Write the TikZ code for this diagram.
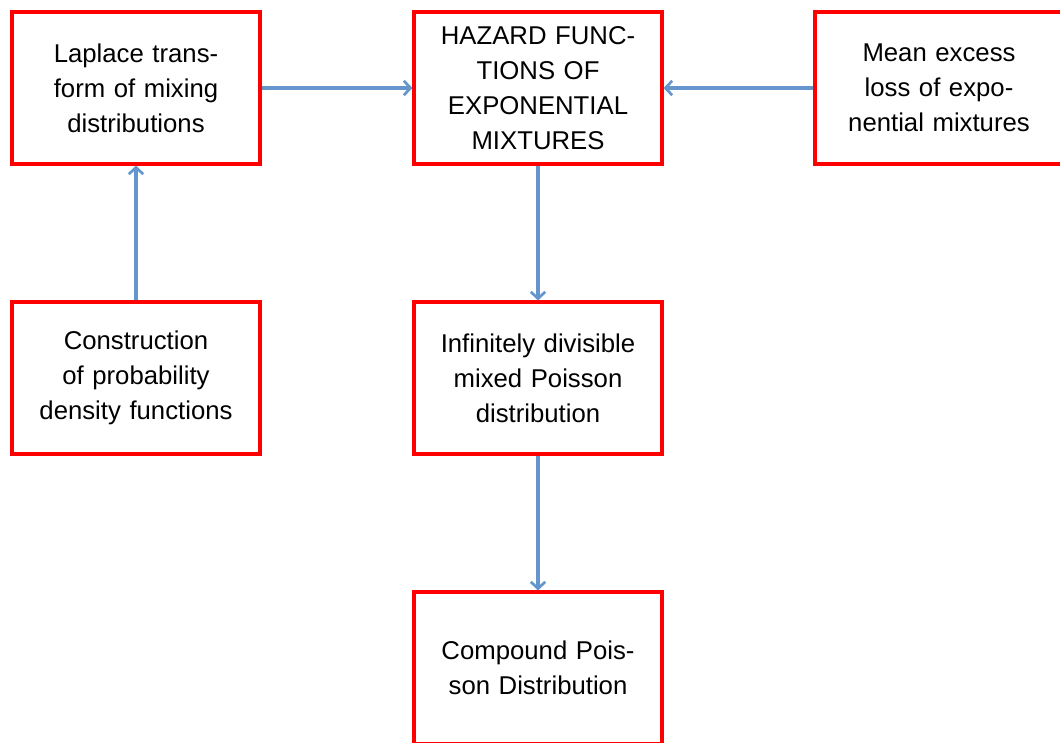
\documentclass[tikz,border=0pt]{standalone}
\usepackage{fontspec}
\setmainfont{Liberation Sans}
\usepackage{tikz}
\usetikzlibrary{arrows.meta, positioning}
\definecolor{boxred}{RGB}{255,0,0}
\definecolor{linkblue}{RGB}{100,150,205}
\tikzset{
  box/.style={rectangle, draw=boxred, fill=white, line width=2.2pt,
    minimum width=6.2cm, minimum height=3.8cm, text width=6cm,
    align=center, inner sep=0pt,
    font=\fontsize{18.3}{24.9}\selectfont},
  link/.style={-{Straight Barb[length=0.17cm, width=0.36cm, line width=1.9pt]},
    line width=2.2pt, color=linkblue}
}
\begin{document}
\begin{tikzpicture}
  \useasboundingbox (0,0) rectangle (26.5,-18.55);
  \node[box] (lap) at (3.4,-2.2) {Laplace trans-\\form of mixing\\distributions};
  \node[box] (haz) at (13.45,-2.2) {HAZARD FUNC-\\TIONS OF\\EXPONENTIAL\\MIXTURES};
  \node[box] (mex) at (23.475,-2.2) {Mean excess\\loss of expo-\\nential mixtures};
  \node[box] (con) at (3.4,-9.45) {Construction\\of probability\\density functions};
  \node[box] (inf) at (13.45,-9.45) {Infinitely divisible\\mixed Poisson\\distribution};
  \node[box] (cmp) at (13.45,-16.7) {Compound Pois-\\son Distribution};
  \draw[link] (lap) -- (haz);
  \draw[link] (mex) -- (haz);
  \draw[link] (con) -- (lap);
  \draw[link] (haz) -- (inf);
  \draw[link] (inf) -- (cmp);
\end{tikzpicture}
\end{document}
